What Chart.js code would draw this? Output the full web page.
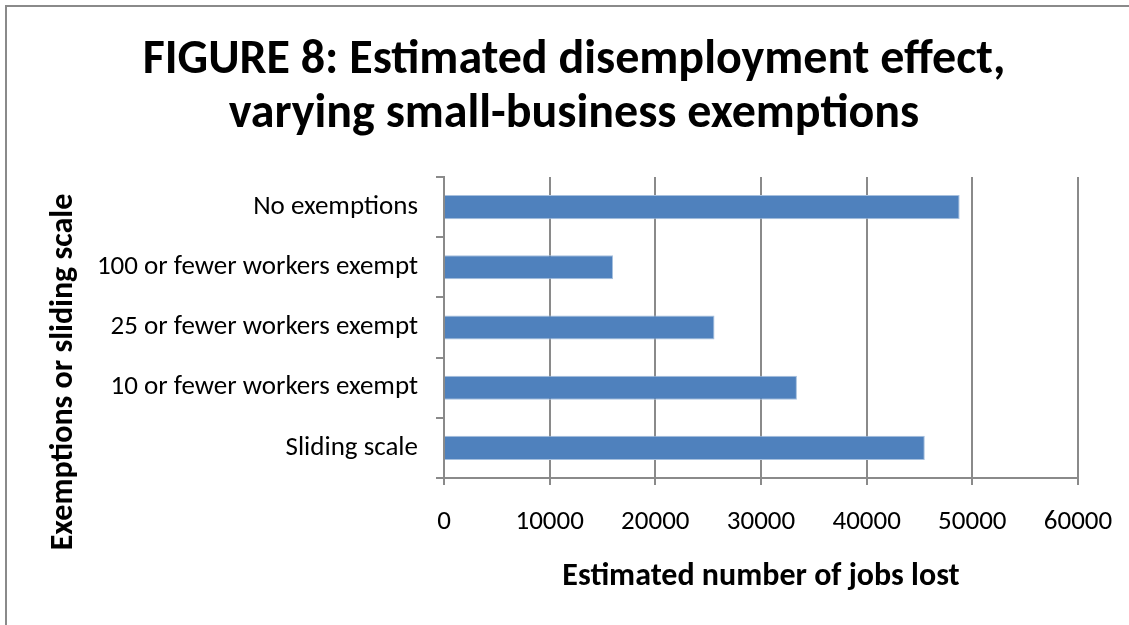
<!DOCTYPE html>
<html>
<head>
<meta charset="utf-8">
<script src="https://cdn.jsdelivr.net/npm/chart.js@4.4.0/dist/chart.umd.min.js"></script>
<style>
    html, body { margin: 0; padding: 0; background: #fff; }
    #wrap { position: relative; width: 1129px; height: 625px; overflow: hidden; }
    #frame { position: absolute; left: 5px; top: 5px; width: 1140px; height: 640px; border: 2px solid #8a8a8a; box-sizing: border-box; }
    canvas { position: absolute; left: 0; top: 0; }
</style>
</head>
<body>
<div id="wrap">
    <div id="frame"></div>
    <canvas id="chart" width="1129" height="625"></canvas>
</div>
<script>
document.addEventListener('DOMContentLoaded', function() {

    const categories = [
        'No exemptions',
        '100 or fewer workers exempt',
        '25 or fewer workers exempt',
        '10 or fewer workers exempt',
        'Sliding scale'
    ];
    const jobsLost = [48800, 16000, 25600, 33400, 45500];
    const tickValues = [0, 10000, 20000, 30000, 40000, 50000, 60000];
    const titleLines = ['FIGURE 8: Estimated disemployment effect,', 'varying small-business exemptions'];
    const yAxisTitle = 'Exemptions or sliding scale';

    const fontFamily = 'Carlito, Lato, "Open Sans", sans-serif';
    const gridColor = '#8a8a8a';

    // draws the main title and the y axis title where Excel puts them
    const textPlugin = {
        id: 'excelText',
        afterDraw(chart) {
            const c = chart.ctx;
            c.save();
            c.fillStyle = '#000';
            c.textAlign = 'center';
            c.textBaseline = 'alphabetic';
            c.font = 'bold 48px ' + fontFamily;
            c.fillText(titleLines[0], 574, 73);
            c.fillText(titleLines[1], 574, 127);

            c.translate(72, 372);
            c.rotate(-Math.PI / 2);
            c.font = 'bold 32px ' + fontFamily;
            c.fillText(yAxisTitle, 0, 0);
            c.restore();
        }
    };

    const ctx = document.getElementById('chart').getContext('2d');

    new Chart(ctx, {
        type: 'bar',
        data: {
            labels: categories,
            datasets: [{
                data: jobsLost,
                backgroundColor: '#4f81bd',
                borderColor: '#a7c0de',
                borderWidth: 1,
                barPercentage: 0.4,
                categoryPercentage: 1
            }]
        },
        options: {
            indexAxis: 'y',
            responsive: false,
            animation: false,
            layout: {
                padding: { left: 40, right: 51, top: 177, bottom: 25 }
            },
            plugins: {
                legend: { display: false },
                tooltip: { enabled: false },
                title: { display: false }
            },
            scales: {
                x: {
                    min: 0,
                    max: 60000,
                    afterBuildTicks: function(scale) {
                        scale.ticks = tickValues.map(v => ({ value: v }));
                    },
                    afterFit: function(scale) {
                        scale.height = 625 - 25 - 478;
                        scale.paddingLeft = 0;
                        scale.paddingRight = 0;
                    },
                    grid: { color: gridColor, lineWidth: 2, tickLength: 7 },
                    border: { color: gridColor, width: 2 },
                    ticks: {
                        color: '#000',
                        padding: 21,
                        font: { family: fontFamily, size: 27 },
                        callback: function(value) { return String(value); }
                    },
                    title: {
                        display: true,
                        text: 'Estimated number of jobs lost',
                        color: '#000',
                        font: { family: fontFamily, size: 32, weight: 'bold' },
                        padding: { top: 4, bottom: 4 }
                    }
                },
                y: {
                    afterFit: function(scale) {
                        scale.width = 444 - 40;
                        scale.paddingTop = 0;
                        scale.paddingBottom = 0;
                    },
                    grid: { offset: true, drawOnChartArea: false, color: gridColor, lineWidth: 2, tickLength: 8 },
                    border: { color: gridColor, width: 2 },
                    ticks: {
                        color: '#000',
                        padding: 18,
                        font: { family: fontFamily, size: 27 }
                    }
                }
            }
        },
        plugins: [textPlugin]
    });
});
</script>
</body>
</html>
